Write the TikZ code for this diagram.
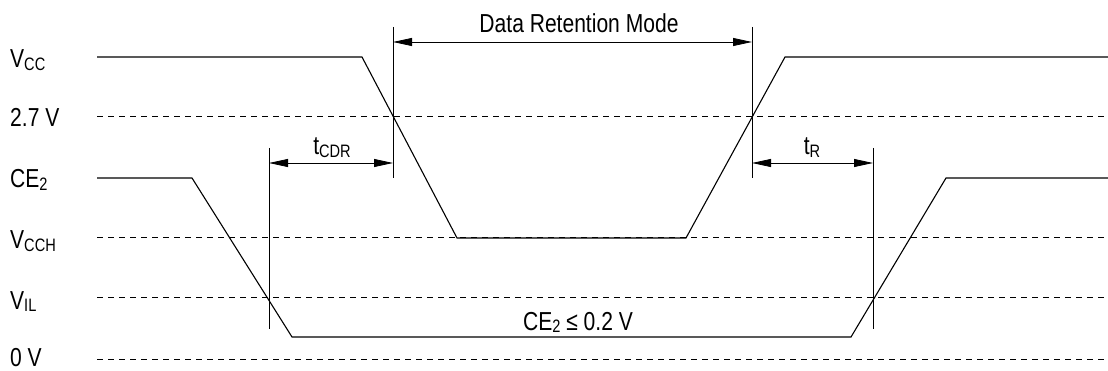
\documentclass[tikz,border=0pt]{standalone}
\usepackage{fontspec}
\setmainfont[FakeStretch=0.81]{Liberation Sans}
\usetikzlibrary{arrows.meta}
\newcommand{\lowsub}[1]{\raisebox{-2.5pt}{\fontsize{18}{18}\selectfont #1}}
\begin{document}
\begin{tikzpicture}[x=1pt,y=-1pt,
  wave/.style={line width=1.1pt, line join=miter},
  ref/.style={line width=1pt, dash pattern=on 6pt off 5pt},
  tick/.style={line width=1pt},
  dim/.style={line width=0.8pt, {Triangle[length=19pt,width=8pt]}-{Triangle[length=19pt,width=8pt]}},
  lbl/.style={inner sep=0pt, anchor=base west, font=\fontsize{26}{26}\selectfont},
  txt/.style={inner sep=0pt, anchor=base, font=\fontsize{26}{26}\selectfont}]
\useasboundingbox (0,0) rectangle (1108,371);
% level labels
\node[lbl] (lvcc)  at (10,68)  {V\lowsub{CC}};
\node[lbl] (l27)   at (10,127) {2.7 V};
\node[lbl] (lce)   at (10,188) {CE\lowsub{2}};
\node[lbl] (lvcch) at (10,249) {V\lowsub{CCH}};
\node[lbl] (lvil)  at (10,309) {V\lowsub{IL}};
\node[lbl] (l0)    at (10,366) {0 V};
% dashed reference levels
\draw[ref] (97,117) -- (1108,117);
\draw[ref] (97,238) -- (1108,238);
\draw[ref] (97,298) -- (1108,298);
\draw[ref] (97,359) -- (1108,359);
% VCC waveform
\draw[wave] (97,57) -- (362,57) -- (457,238) -- (686,238) -- (785,57) -- (1108,57);
% CE2 waveform
\draw[wave] (97,178) -- (192,178) -- (292,337) -- (851,337) -- (946,178) -- (1108,178);
% vertical timing marks
\coordinate (a1) at (269,148); \coordinate (a2) at (269,329);
\coordinate (b1) at (393,27);  \coordinate (b2) at (393,178);
\coordinate (c1) at (752,27);  \coordinate (c2) at (752,178);
\coordinate (d1) at (873,148); \coordinate (d2) at (873,329);
\draw[tick] (a1) -- (a2);
\draw[tick] (b1) -- (b2);
\draw[tick] (c1) -- (c2);
\draw[tick] (d1) -- (d2);
% dimension arrows
\coordinate (drmL) at (393,42); \coordinate (drmR) at (752,42);
\coordinate (cdrL) at (269,163); \coordinate (cdrR) at (393,163);
\coordinate (trL) at (752,163); \coordinate (trR) at (873,163);
\draw[dim] (drmL) -- (drmR);
\draw[dim] (cdrL) -- (cdrR);
\draw[dim] (trL) -- (trR);
\node[txt] (drm) at (579,33) {Data Retention Mode};
\node[txt] (tcdr) at (332,155) {t\lowsub{CDR}};
\node[txt] (tr) at (812,155) {t\lowsub{R}};
\node[txt] (ce) at (578,330) {CE\lowsub{2} ≤ 0.2 V};
\end{tikzpicture}
\end{document}
